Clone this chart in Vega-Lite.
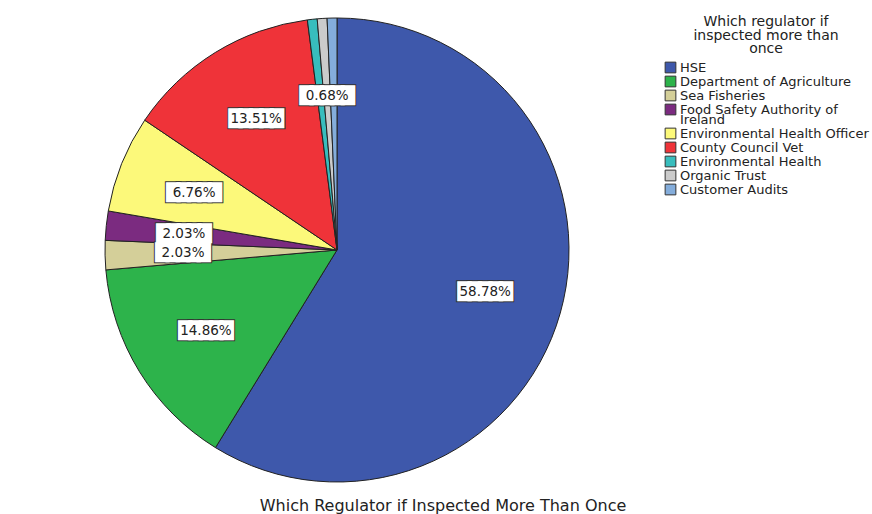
{
  "$schema": "https://vega.github.io/schema/vega-lite/v6.json",
  "width": 674,
  "height": 500,
  "autosize": "none",
  "padding": {"left": 0, "top": 0, "right": 198, "bottom": 14},
  "background": "white",
  "title": {
    "text": "Which Regulator if Inspected More Than Once",
    "orient": "bottom",
    "anchor": "middle",
    "dx": 106,
    "offset": -2,
    "font": "DejaVu Sans",
    "fontSize": 16,
    "fontWeight": "normal",
    "color": "#222"
  },
  "config": {"view": {"stroke": null}},
  "data": {
    "values": [
      {"regulator": "HSE", "idx": 1, "share": 0.5878, "show": true},
      {"regulator": "Department of Agriculture", "idx": 2, "share": 0.1486, "show": true},
      {"regulator": "Sea Fisheries", "idx": 3, "share": 0.0203, "show": true},
      {"regulator": "Food Safety Authority of Ireland", "idx": 4, "share": 0.0203, "show": true},
      {"regulator": "Environmental Health Officer", "idx": 5, "share": 0.0676, "show": true},
      {"regulator": "County Council Vet", "idx": 6, "share": 0.1351, "show": true},
      {"regulator": "Environmental Health", "idx": 7, "share": 0.0068, "show": false},
      {"regulator": "Organic Trust", "idx": 8, "share": 0.0068, "show": true},
      {"regulator": "Customer Audits", "idx": 9, "share": 0.0068, "show": false}
    ]
  },
  "layer": [
    {
      "mark": {"type": "arc", "outerRadius": 232, "stroke": "#222", "strokeWidth": 1},
      "encoding": {
        "theta": {"field": "share", "type": "quantitative", "stack": true},
        "order": {"field": "idx", "type": "quantitative"},
        "color": {
          "field": "regulator",
          "type": "nominal",
          "scale": {
            "domain": ["HSE", "Department of Agriculture", "Sea Fisheries", "Food Safety Authority of Ireland", "Environmental Health Officer", "County Council Vet", "Environmental Health", "Organic Trust", "Customer Audits"],
            "range": ["#3e58ab", "#2db34b", "#d4cf99", "#7b2b80", "#fcf97a", "#ef3339", "#38bdbd", "#cbcbcb", "#84addb"]
          },
          "legend": {
            "orient": "none",
            "legendX": 664,
            "legendY": 15,
            "padding": 0,
            "title": ["Which regulator if", "inspected more than", "once"],
            "titleFont": "DejaVu Sans",
            "titleFontSize": 14,
            "titleFontWeight": "normal",
            "titleColor": "#222",
            "titleLineHeight": 13.5,
            "titleAnchor": "middle",
            "titleAlign": "center",
            "titlePadding": 5,
            "labelFont": "DejaVu Sans",
            "labelFontSize": 13,
            "labelColor": "#222",
            "labelLimit": 300,
            "labelOffset": 3,
            "symbolType": "square",
            "symbolSize": 115,
            "symbolStrokeColor": "#333",
            "symbolStrokeWidth": 1,
            "symbolOpacity": 1,
            "rowPadding": -2,
            "labelExpr": "datum.label == 'Food Safety Authority of Ireland' ? ['Food Safety Authority of', 'Ireland'] : datum.label",
            "encode": {"labels": {"update": {"lineHeight": {"value": 10}}}}
          }
        }
      }
    },
    {
      "mark": {"type": "text", "radius": 154, "font": "DejaVu Sans", "fontSize": 13.5, "fill": "#333", "stroke": "#333", "strokeWidth": 6, "strokeJoin": "miter", "baseline": "middle", "align": "center"},
      "encoding": {
        "theta": {"field": "share", "type": "quantitative", "stack": true},
        "order": {"field": "idx", "type": "quantitative"},
        "text": {"condition": {"test": "!datum.show", "value": ""}, "value": "█████"}
      }
    },
    {
      "mark": {"type": "text", "radius": 154, "font": "DejaVu Sans", "fontSize": 13.5, "fill": "white", "stroke": "white", "strokeWidth": 4, "strokeJoin": "miter", "baseline": "middle", "align": "center"},
      "encoding": {
        "theta": {"field": "share", "type": "quantitative", "stack": true},
        "order": {"field": "idx", "type": "quantitative"},
        "text": {"condition": {"test": "!datum.show", "value": ""}, "value": "█████"}
      }
    },
    {
      "mark": {"type": "text", "radius": 154, "font": "DejaVu Sans", "fontSize": 13.5, "fill": "#222", "baseline": "middle", "align": "center"},
      "encoding": {
        "theta": {"field": "share", "type": "quantitative", "stack": true},
        "order": {"field": "idx", "type": "quantitative"},
        "text": {"condition": {"test": "!datum.show", "value": ""}, "field": "share", "type": "quantitative", "format": ".2%"}
      }
    }
  ]
}
